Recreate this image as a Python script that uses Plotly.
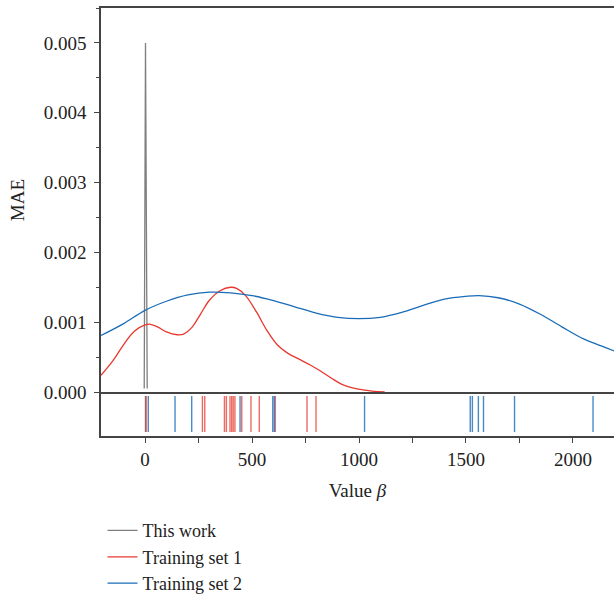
import plotly.graph_objects as go
from plotly.subplots import make_subplots

# ---- data ----
this_work_x = [-4, 2, 10]
this_work_y = [0.00005, 0.0050, 0.00005]

set1_x = [-206, -150, -100, -50, 0, 25, 60, 100, 150, 180, 220, 260, 300, 350, 400, 430,
          470, 520, 570, 620, 670, 720, 770, 820, 870, 920, 970, 1020, 1070, 1120]
set1_y = [0.00024, 0.00045, 0.00068, 0.00087, 0.00096, 0.00097, 0.00093, 0.00086, 0.00082,
          0.00083, 0.00093, 0.00112, 0.00131, 0.00145, 0.00150, 0.00148, 0.00138, 0.00115,
          0.00088, 0.00067, 0.00055, 0.00047, 0.00039, 0.00030, 0.00020, 0.00011, 0.00006,
          0.00003, 0.00001, 0.0]

set2_x = [-206, -100, 0, 100, 200, 300, 400, 500, 600, 700, 800, 900, 1000, 1100, 1200,
          1300, 1400, 1500, 1560, 1650, 1750, 1850, 1950, 2050, 2150, 2200]
set2_y = [0.00081, 0.00098, 0.00117, 0.00130, 0.00139, 0.00143, 0.00142, 0.00138, 0.00131,
          0.00122, 0.00113, 0.00107, 0.00105, 0.00107, 0.00114, 0.00124, 0.00133, 0.00137,
          0.00138, 0.00135, 0.00126, 0.00111, 0.00093, 0.00076, 0.00064, 0.00058]

rug_this = [2]
rug_set1 = [5, 268, 279, 371, 380, 397, 405, 412, 420, 452, 495, 534, 609, 757, 799]
rug_set2 = [15, 140, 218, 444, 597, 604, 1026, 1520, 1530, 1558, 1582, 1727, 2094]

names = ["This work", "Training set 1", "Training set 2"]
colors = ["#7f7f7f", "#e8382e", "#1a6cb8"]
rug_colors = ["rgba(110,110,110,0.9)", "rgba(232,56,46,0.75)", "rgba(26,108,184,0.8)"]

x_ticks = [0, 500, 1000, 1500, 2000]
y_ticks = [0.000, 0.001, 0.002, 0.003, 0.004, 0.005]
y_ticklabels = ["0.000", "0.001", "0.002", "0.003", "0.004", "0.005"]

FONT = "Liberation Serif"
RUG_LO, RUG_HI = 0.09, 0.91

fig = make_subplots(rows=2, cols=1, shared_xaxes=True, vertical_spacing=0,
                    row_heights=[384, 44])

curves = [(this_work_x, this_work_y), (set1_x, set1_y), (set2_x, set2_y)]
for (xs, ys), name, col in zip(curves, names, colors):
    fig.add_trace(go.Scatter(x=xs, y=ys, mode="lines", name=name,
                             line=dict(color=col, width=1.3,
                                       shape="linear" if name == "This work" else "spline"),
                             hoverinfo="skip"), row=1, col=1)

for rug, col in zip([rug_this, rug_set1, rug_set2], rug_colors):
    rx, ry = [], []
    for v in rug:
        rx += [v, v, None]
        ry += [RUG_LO, RUG_HI, None]
    fig.add_trace(go.Scatter(x=rx, y=ry, mode="lines", showlegend=False,
                             line=dict(color=col, width=1.4), hoverinfo="skip"),
                  row=2, col=1)

axis_line = dict(showline=True, linecolor="#444444", linewidth=1.5, showgrid=False,
                 zeroline=False)

fig.update_xaxes(range=[-206, 2192], **axis_line)
fig.update_xaxes(row=1, col=1, mirror=True, ticks="", showticklabels=False)
fig.update_xaxes(row=2, col=1, ticks="outside", ticklen=5, tickwidth=1.2, tickcolor="#444",
                 tickvals=x_ticks, ticktext=[str(v) for v in x_ticks],
                 minor=dict(dtick=250, tick0=0, ticks="outside", ticklen=5, tickwidth=1.2,
                            tickcolor="#444"),
                 tickfont=dict(family=FONT, size=19, color="#222"),
                 title=dict(text="Value <i>β</i>", standoff=15,
                            font=dict(family=FONT, size=19, color="#222")))

fig.update_yaxes(row=1, col=1, range=[0, 0.0055], domain=[44 / 428, 1], **axis_line,
                 ticks="outside", ticklen=5, tickwidth=1.2, tickcolor="#444",
                 tickvals=y_ticks, ticktext=y_ticklabels, ticklabelstandoff=4,
                 minor=dict(dtick=0.0005, tick0=0, ticks="outside", ticklen=3,
                            tickwidth=1.2, tickcolor="#444"),
                 tickfont=dict(family=FONT, size=19, color="#222"),
                 title=dict(text="MAE", standoff=14,
                            font=dict(family=FONT, size=19, color="#222")))
fig.update_yaxes(row=2, col=1, range=[0, 1], domain=[0, 44 / 428], **axis_line,
                 ticks="", showticklabels=False)

fig.update_layout(
    width=614, height=599,
    margin=dict(l=101, r=0, t=8, b=163, autoexpand=False),
    paper_bgcolor="white", plot_bgcolor="white",
    legend=dict(x=0.003, y=-0.178, xanchor="left", yanchor="top",
                font=dict(family=FONT, size=18, color="#222"),
                bgcolor="rgba(0,0,0,0)", tracegroupgap=0),
    showlegend=True,
)

fig.write_html("out.html")
